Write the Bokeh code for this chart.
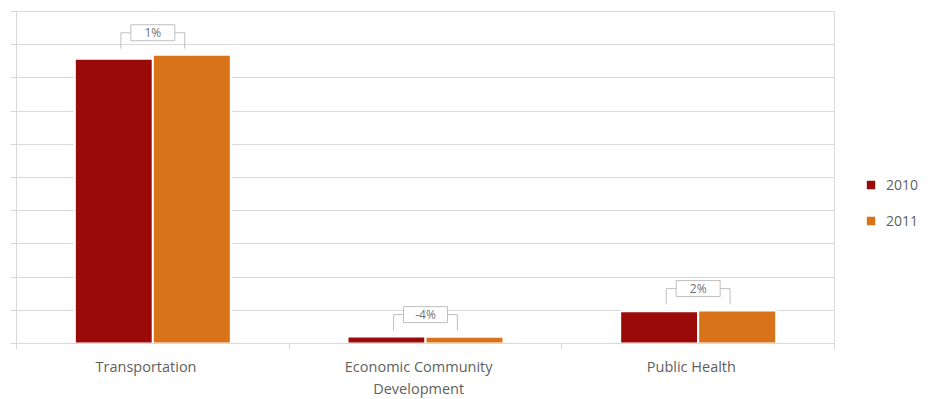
from bokeh.plotting import figure
from bokeh.models import FixedTicker, Legend, LegendItem, ColumnDataSource, Range1d
from bokeh.embed import file_html
from bokeh.resources import INLINE
from bokeh.core.properties import value

categories = ["Transportation", "Economic Community\nDevelopment", "Public Health"]
years = ["2010", "2011"]
values_2010 = [8.575, 0.210, 0.973]
values_2011 = [8.700, 0.202, 0.994]
colors = ["#990A09", "#D9731A"]
y_ticks = list(range(0, 11))

FONT = "Open Sans"
GRID = "#d9d9d9"
TEXT = "#5f5f5f"

n = len(categories)
centers = [i + 0.5 for i in range(n)]
label_pos = [c - 0.025 for c in centers]
bar_w = 0.286
offset = 0.143

p = figure(frame_width=818, frame_height=332, x_range=Range1d(0, n), y_range=Range1d(0, 10),
           output_backend="svg", toolbar_location=None,
           min_border_left=16, min_border_top=11, min_border_bottom=56, min_border_right=0)
p.background_fill_color = "white"
p.border_fill_color = "white"
p.outline_line_color = GRID

src = ColumnDataSource(dict(
    x2010=[c - offset for c in centers], x2011=[c + offset for c in centers],
    v2010=values_2010, v2011=values_2011))
r1 = p.vbar(x="x2010", top="v2010", width=bar_w, source=src, fill_color=colors[0],
            line_color="white", line_width=2)
r2 = p.vbar(x="x2011", top="v2011", width=bar_w, source=src, fill_color=colors[1],
            line_color="white", line_width=2)

# change brackets
half = 0.117
gap = 0.18
rise = 0.48
by0, by1, labs = [], [], []
for c, a, b in zip(centers, values_2010, values_2011):
    bot = max(a, b) + gap
    by0.append(bot)
    by1.append(bot + rise)
    labs.append(f"{round((b / a - 1) * 100)}%")
lsrc = ColumnDataSource(dict(xl=[c - half for c in centers], xr=[c + half for c in centers],
                             yb=by0, yt=by1, xc=centers, lab=labs))
p.segment(x0="xl", y0="yb", x1="xl", y1="yt", source=lsrc, line_color="#bfbfbf", line_width=1)
p.segment(x0="xr", y0="yb", x1="xr", y1="yt", source=lsrc, line_color="#bfbfbf", line_width=1)
p.segment(x0="xl", y0="yt", x1="xr", y1="yt", source=lsrc, line_color="#bfbfbf", line_width=1)
p.rect(x="xc", y="yt", width=44, height=16, width_units="screen", height_units="screen",
       source=lsrc, fill_color="white", line_color="#bfbfbf", line_width=1)
p.text(x="xc", y="yt", text="lab", source=lsrc, text_align="center", text_baseline="middle",
       text_font=value(FONT), text_font_size="12px", text_color="#6f6f6f")

# axes
p.xgrid.visible = False
p.ygrid.ticker = FixedTicker(ticks=y_ticks)
p.ygrid.grid_line_color = GRID

xa = p.xaxis[0]
xa.ticker = FixedTicker(ticks=label_pos, minor_ticks=list(range(n + 1)))
xa.major_label_overrides = {c: lab for c, lab in zip(label_pos, categories)}
xa.major_tick_out = 0
xa.major_tick_in = 0
xa.minor_tick_out = 6
xa.minor_tick_in = 0
xa.minor_tick_line_color = GRID
xa.axis_line_color = GRID
xa.major_label_text_font = FONT
xa.major_label_text_font_size = "14.5px"
xa.major_label_text_color = TEXT
xa.major_label_standoff = 7

ya = p.yaxis[0]
ya.ticker = FixedTicker(ticks=y_ticks)
ya.major_label_overrides = {t: "" for t in y_ticks}
ya.major_tick_out = 6
ya.major_tick_in = 0
ya.minor_tick_out = 0
ya.minor_tick_in = 0
ya.major_tick_line_color = GRID
ya.axis_line_color = GRID
ya.major_label_text_font_size = "1px"

legend = Legend(items=[LegendItem(label=years[0], renderers=[r1]),
                       LegendItem(label=years[1], renderers=[r2])],
                location=(30, 113))
legend.glyph_width = 13
legend.glyph_height = 13
legend.label_height = 13
legend.spacing = 17
legend.padding = 0
legend.margin = 0
legend.label_standoff = 9
legend.border_line_color = None
legend.background_fill_alpha = 0
legend.label_text_font = FONT
legend.label_text_font_size = "14px"
legend.label_text_color = TEXT
p.add_layout(legend, "right")

open("out.html", "w").write(file_html(p, INLINE))
